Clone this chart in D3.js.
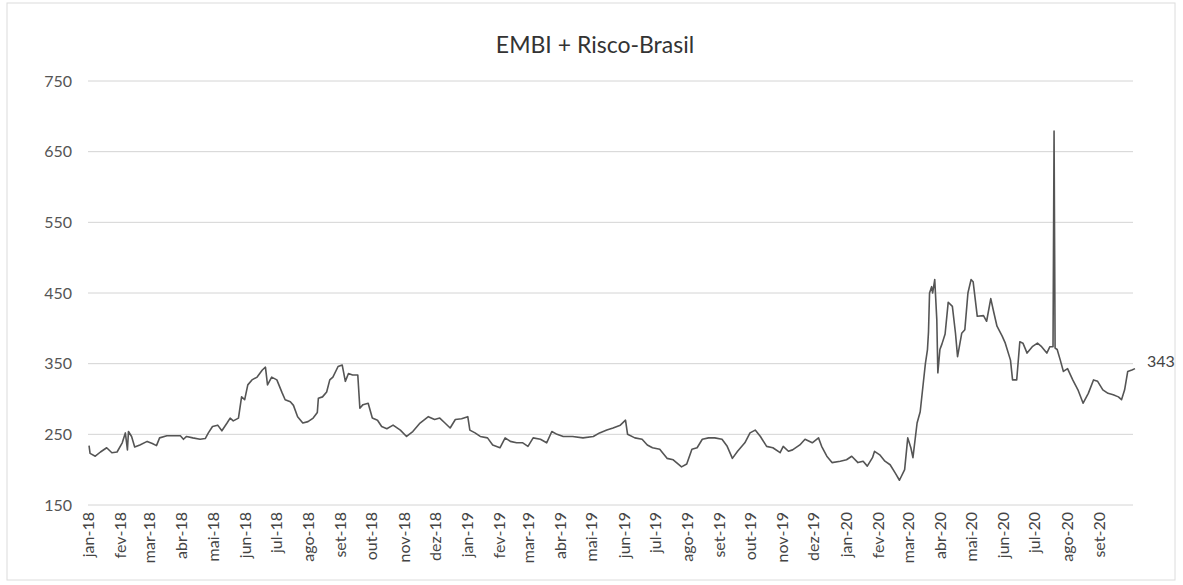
<!DOCTYPE html>
<html>
<head>
<meta charset="utf-8">
<script src="https://cdn.jsdelivr.net/npm/d3@7"></script>
<style>
  body { margin: 0; background: #fff; }
  svg { font-family: Lato, "Liberation Sans", sans-serif; }
</style>
</head>
<body>
<script>
// EMBI + Risco-Brasil (pontos-base), leitura aproximada do gráfico
const serie2018 = [
  ["2018-01-02",234],["2018-01-03",223],["2018-01-08",219],["2018-01-13",225],["2018-01-19",231],
  ["2018-01-24",224],["2018-01-29",225],["2018-02-03",238],["2018-02-06",252],["2018-02-08",228],
  ["2018-02-09",254],["2018-02-12",247],["2018-02-15",232],["2018-02-20",235],["2018-02-27",240],
  ["2018-03-04",237],["2018-03-08",234],["2018-03-11",245],["2018-03-18",248],["2018-03-24",248],
  ["2018-03-31",248],["2018-04-03",243],["2018-04-06",247],["2018-04-12",245],["2018-04-19",243],
  ["2018-04-24",244],["2018-04-27",252],["2018-05-01",261],["2018-05-06",263],["2018-05-10",255],
  ["2018-05-15",266],["2018-05-18",273],["2018-05-21",269],["2018-05-26",273],["2018-05-29",303],
  ["2018-06-01",299],["2018-06-04",320],["2018-06-08",327],["2018-06-13",331],["2018-06-18",341],
  ["2018-06-21",345],["2018-06-23",320],["2018-06-27",331],["2018-07-02",327],["2018-07-07",309],
  ["2018-07-10",299],["2018-07-15",296],["2018-07-18",291],["2018-07-22",275],["2018-07-27",266],
  ["2018-08-01",268],["2018-08-06",273],["2018-08-10",281],["2018-08-11",301],["2018-08-15",303],
  ["2018-08-19",310],["2018-08-22",327],["2018-08-25",331],["2018-08-30",346],["2018-09-03",348],
  ["2018-09-06",325],["2018-09-09",336],["2018-09-13",334],["2018-09-18",334],["2018-09-20",287],
  ["2018-09-23",292],["2018-09-28",294],["2018-10-02",273],["2018-10-07",270],["2018-10-11",261],
  ["2018-10-16",258],["2018-10-22",263],["2018-10-29",256],["2018-11-04",247],["2018-11-10",254],
  ["2018-11-17",266],["2018-11-25",275],["2018-12-01",271],["2018-12-06",273],["2018-12-11",266],
  ["2018-12-16",259],["2018-12-21",271],["2018-12-27",272]
];

const serie2019 = [
  ["2019-01-02",275],["2019-01-04",256],["2019-01-09",252],["2019-01-14",247],["2019-01-21",245],
  ["2019-01-26",235],["2019-02-02",231],["2019-02-07",245],["2019-02-12",240],["2019-02-18",238],
  ["2019-02-24",238],["2019-03-01",233],["2019-03-06",245],["2019-03-13",243],["2019-03-19",238],
  ["2019-03-24",254],["2019-03-29",250],["2019-04-04",247],["2019-04-13",247],["2019-04-23",245],
  ["2019-05-03",247],["2019-05-09",252],["2019-05-16",256],["2019-05-22",259],["2019-05-29",263],
  ["2019-06-03",270],["2019-06-05",250],["2019-06-12",245],["2019-06-19",243],["2019-06-24",235],
  ["2019-06-29",231],["2019-07-06",229],["2019-07-13",216],["2019-07-19",214],["2019-07-27",204],
  ["2019-08-01",208],["2019-08-06",229],["2019-08-11",231],["2019-08-16",243],["2019-08-22",245],
  ["2019-08-28",245],["2019-09-04",243],["2019-09-09",233],["2019-09-14",216],["2019-09-19",226],
  ["2019-09-26",238],["2019-10-01",252],["2019-10-06",256],["2019-10-11",247],["2019-10-17",233],
  ["2019-10-23",231],["2019-10-30",224],["2019-11-02",233],["2019-11-07",226],["2019-11-11",228],
  ["2019-11-18",235],["2019-11-23",243],["2019-11-30",238],["2019-12-06",245],["2019-12-09",233],
  ["2019-12-14",219],["2019-12-19",210],["2019-12-27",212]
];

const serie2020 = [
  ["2020-01-02",214],["2020-01-07",219],["2020-01-13",210],["2020-01-18",212],["2020-01-22",205],
  ["2020-01-27",217],["2020-01-29",226],["2020-02-03",221],["2020-02-08",212],["2020-02-13",207],
  ["2020-02-18",195],["2020-02-22",185],["2020-02-27",200],["2020-03-01",245],["2020-03-04",231],
  ["2020-03-06",217],["2020-03-10",266],["2020-03-13",282],["2020-03-16",323],["2020-03-18",350],
  ["2020-03-20",370],["2020-03-21",395],["2020-03-22",450],["2020-03-24",459],["2020-03-25",450],
  ["2020-03-27",469],["2020-03-29",412],["2020-03-30",337],["2020-04-01",370],["2020-04-03",378],
  ["2020-04-06",392],["2020-04-09",437],["2020-04-13",431],["2020-04-16",393],["2020-04-18",360],
  ["2020-04-22",393],["2020-04-25",398],["2020-04-28",450],["2020-05-01",469],["2020-05-03",466],
  ["2020-05-07",417],["2020-05-13",418],["2020-05-16",410],["2020-05-20",442],["2020-05-23",422],
  ["2020-05-26",403],["2020-05-31",389],["2020-06-03",379],["2020-06-08",355],["2020-06-10",327],
  ["2020-06-14",327],["2020-06-17",381],["2020-06-20",379],["2020-06-24",365],["2020-06-29",374],
  ["2020-07-04",379],["2020-07-08",374],["2020-07-13",365],["2020-07-16",374],["2020-07-19",374],
  ["2020-07-20",679],["2020-07-21",372],["2020-07-23",370],["2020-07-26",355],["2020-07-29",339],
  ["2020-08-02",343],["2020-08-07",327],["2020-08-12",313],["2020-08-17",294],["2020-08-22",308],
  ["2020-08-27",327],["2020-08-31",325],["2020-09-05",313],["2020-09-10",308],["2020-09-15",306],
  ["2020-09-20",303],["2020-09-23",299],["2020-09-26",313],["2020-09-29",339],["2020-10-03",341],
  ["2020-10-06",343]
];

const rotulosX = [
  "jan-18","fev-18","mar-18","abr-18","mai-18","jun-18","jul-18","ago-18","set-18","out-18","nov-18","dez-18",
  "jan-19","fev-19","mar-19","abr-19","mai-19","jun-19","jul-19","ago-19","set-19","out-19","nov-19","dez-19",
  "jan-20","fev-20","mar-20","abr-20","mai-20","jun-20","jul-20","ago-20","set-20"
];
const ticksY = [150, 250, 350, 450, 550, 650, 750];
const titulo = "EMBI + Risco-Brasil";

const width = 1183, height = 585;
const parse = d3.timeParse("%Y-%m-%d");
const dados = serie2018.concat(serie2019, serie2020).map(d => ({ data: parse(d[0]), valor: d[1] }));
const ultimo = dados[dados.length - 1];

const x = d3.scaleTime()
    .domain([parse("2018-01-01"), ultimo.data])
    .range([88, 1135]);
const y = d3.scaleLinear()
    .domain([150, 750])
    .range([505, 81]);

const svg = d3.select("body").append("svg")
    .attr("width", width)
    .attr("height", height);

svg.append("rect")
    .attr("x", 7).attr("y", 3)
    .attr("width", 1168).attr("height", 577)
    .attr("fill", "#fff")
    .attr("stroke", "#dcdcdc");

svg.append("text")
    .attr("x", 595).attr("y", 53)
    .attr("text-anchor", "middle")
    .attr("font-size", 23)
    .attr("fill", "#333")
    .text(titulo);

// grade horizontal
svg.append("g")
    .selectAll("line")
    .data(ticksY)
    .enter().append("line")
    .attr("x1", 88).attr("x2", 1133)
    .attr("y1", d => y(d)).attr("y2", d => y(d))
    .attr("stroke", "#d4d4d4")
    .attr("stroke-width", 1);

// eixo Y
const eixoY = svg.append("g")
    .attr("transform", "translate(72,0)")
    .call(d3.axisLeft(y).tickValues(ticksY).tickSize(0).tickPadding(0));
eixoY.select(".domain").remove();
eixoY.selectAll("text")
    .attr("font-family", "Lato, sans-serif")
    .attr("font-size", 16)
    .attr("fill", "#555");

// eixo X (meses)
const meses = d3.timeMonth.range(parse("2018-01-01"), parse("2020-09-02"));
const eixoX = svg.append("g")
    .attr("transform", "translate(0,509)")
    .call(d3.axisBottom(x).tickValues(meses).tickSize(0).tickFormat((d, i) => rotulosX[i]));
eixoX.select(".domain").remove();
eixoX.selectAll("text")
    .attr("font-family", "Lato, sans-serif")
    .attr("font-size", 16)
    .attr("fill", "#444")
    .attr("text-anchor", "end")
    .attr("transform", "rotate(-90)")
    .attr("x", -3)
    .attr("y", 0)
    .attr("dy", "0.35em");

// linha
const linha = d3.line()
    .x(d => x(d.data))
    .y(d => y(d.valor));

svg.append("path")
    .datum(dados)
    .attr("fill", "none")
    .attr("stroke", "#555")
    .attr("stroke-width", 1.6)
    .attr("stroke-linejoin", "round")
    .attr("d", linha);

// rótulo do último valor
svg.append("text")
    .attr("x", x(ultimo.data) + 12)
    .attr("y", y(ultimo.valor) - 2)
    .attr("font-size", 16)
    .attr("fill", "#444")
    .text(ultimo.valor);
</script>
</body>
</html>
